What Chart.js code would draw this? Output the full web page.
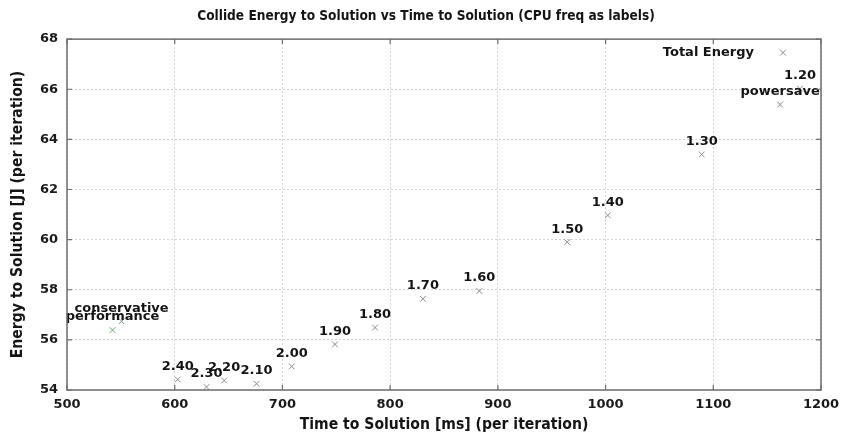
<!DOCTYPE html>
<html>
<head>
<meta charset="utf-8">
<script src="https://cdn.jsdelivr.net/npm/chart.js@4.4.0/dist/chart.umd.min.js"></script>
<style>
  html, body { margin: 0; padding: 0; background: #fff; }
  #wrap { width: 843px; height: 435px; }
</style>
</head>
<body>
<div id="wrap"><canvas id="c" width="843" height="435"></canvas></div>
<script>
// ---- data ----
const pointLabels = ['performance', 'conservative', '2.40', '2.30', '2.20', '2.10', '2.00', '1.90', '1.80', '1.70', '1.60', '1.50', '1.40', '1.30', '1.20', 'powersave'];
const timeMs = [542.3, 550.7, 602.8, 629.5, 645.9, 676.0, 708.6, 748.8, 786.0, 830.4, 882.8, 964.4, 1002.1, 1089.3, 1180.5, 1162.1];
const energyJ = [56.39, 56.74, 54.42, 54.12, 54.38, 54.25, 54.94, 55.82, 56.49, 57.64, 57.95, 59.90, 60.97, 63.40, 66.02, 65.39];
const seriesName = 'Total Energy';
const xTicks = [500, 600, 700, 800, 900, 1000, 1100, 1200];
const yTicks = [54, 56, 58, 60, 62, 64, 66, 68];

const points = timeMs.map((t, i) => ({ x: t, y: energyJ[i] }));
const governorSet = new Set(['performance', 'conservative']);

const BOLD = 'bold 13px "DejaVu Sans"';
const COND = '"DejaVu Sans Condensed", "DejaVu Sans"';

const frameAndLabels = {
  id: 'frameAndLabels',
  afterDatasetsDraw(chart) {
    const { ctx, chartArea: a, scales } = chart;
    ctx.save();
    // point labels
    const meta = chart.getDatasetMeta(0);
    ctx.font = BOLD;
    ctx.fillStyle = '#141414';
    ctx.textAlign = 'center';
    ctx.textBaseline = 'middle';
    meta.data.forEach((el, i) => {
      ctx.fillText(pointLabels[i], el.x, el.y - 13);
    });
    // frame
    ctx.strokeStyle = '#6e6e6e';
    ctx.lineWidth = 1.5;
    ctx.strokeRect(a.left, a.top, a.right - a.left, a.bottom - a.top);
    // inward ticks on all four sides
    ctx.lineWidth = 1.2;
    ctx.beginPath();
    xTicks.forEach(v => {
      const px = scales.x.getPixelForValue(v);
      ctx.moveTo(px, a.bottom); ctx.lineTo(px, a.bottom - 5);
      ctx.moveTo(px, a.top); ctx.lineTo(px, a.top + 5);
    });
    yTicks.forEach(v => {
      const py = scales.y.getPixelForValue(v);
      ctx.moveTo(a.left, py); ctx.lineTo(a.left + 5, py);
      ctx.moveTo(a.right, py); ctx.lineTo(a.right - 5, py);
    });
    ctx.stroke();
    // legend
    ctx.font = BOLD;
    ctx.fillStyle = '#141414';
    ctx.textAlign = 'right';
    ctx.fillText(seriesName, a.right - 67, a.top + 13.5);
    const mx = a.right - 38, my = a.top + 13.5, r = 3;
    ctx.strokeStyle = '#8a8a8a';
    ctx.lineWidth = 1;
    ctx.beginPath();
    ctx.moveTo(mx - r, my - r); ctx.lineTo(mx + r, my + r);
    ctx.moveTo(mx - r, my + r); ctx.lineTo(mx + r, my - r);
    ctx.stroke();
    ctx.restore();
  }
};

new Chart(document.getElementById('c'), {
  type: 'scatter',
  data: {
    datasets: [{
      label: seriesName,
      data: points,
      pointStyle: 'crossRot',
      pointRadius: 4,
      pointHoverRadius: 4,
      pointBorderWidth: 1,
      borderColor: (c) => governorSet.has(pointLabels[c.dataIndex]) ? '#6f9e6f' : '#8a8a8a',
      backgroundColor: '#8a8a8a'
    }]
  },
  options: {
    responsive: false,
    animation: false,
    events: [],
    layout: { padding: { left: 9, right: 0, top: 0, bottom: 0 } },
    plugins: {
      legend: { display: false },
      tooltip: { enabled: false },
      title: {
        display: true,
        text: 'Collide Energy to Solution vs Time to Solution (CPU freq as labels)',
        color: '#141414',
        font: { family: COND, weight: 'bold', size: 13.6, lineHeight: 1.2 },
        padding: { top: 8.3, bottom: 14.5 }
      }
    },
    scales: {
      x: {
        type: 'linear',
        min: 500, max: 1200,
        afterBuildTicks: (s) => { s.ticks = xTicks.map(v => ({ value: v })); },
        afterFit: (s) => { s.height = 45; s.paddingLeft = 0; s.paddingRight = 0; },
        grid: { color: '#d2d2d2', drawTicks: false, lineWidth: 1 },
        border: { display: false, dash: [2, 2] },
        ticks: {
          color: '#1a1a1a', font: { family: '"DejaVu Sans"', weight: 'bold', size: 13 }, padding: 7, maxRotation: 0,
          callback: (v) => String(v)
        },
        title: {
          display: true,
          text: 'Time to Solution [ms] (per iteration)',
          color: '#141414',
          font: { family: COND, weight: 'bold', size: 15.6, lineHeight: 1.2 },
          padding: { top: 0, bottom: 1 }
        }
      },
      y: {
        type: 'linear',
        position: 'left',
        min: 54, max: 68,
        afterBuildTicks: (s) => { s.ticks = yTicks.map(v => ({ value: v })); },
        afterFit: (s) => { s.width = 58; },
        grid: { color: '#d2d2d2', drawTicks: false, lineWidth: 1 },
        border: { display: false, dash: [2, 2] },
        ticks: {
          color: '#1a1a1a', font: { family: '"DejaVu Sans"', weight: 'bold', size: 13 }, padding: 9,
          callback: (v) => String(v)
        },
        title: {
          display: true,
          text: 'Energy to Solution [J] (per iteration)',
          color: '#141414',
          font: { family: COND, weight: 'bold', size: 15.6, lineHeight: 1.2 },
          padding: { top: 0, bottom: 0 }
        }
      },
      yRightSpace: {
        type: 'linear',
        position: 'right',
        min: 54, max: 68,
        afterFit: (s) => { s.width = 22; },
        grid: { display: false, drawTicks: false },
        border: { display: false },
        ticks: { display: false }
      }
    }
  },
  plugins: [frameAndLabels]
});
</script>
</body>
</html>
